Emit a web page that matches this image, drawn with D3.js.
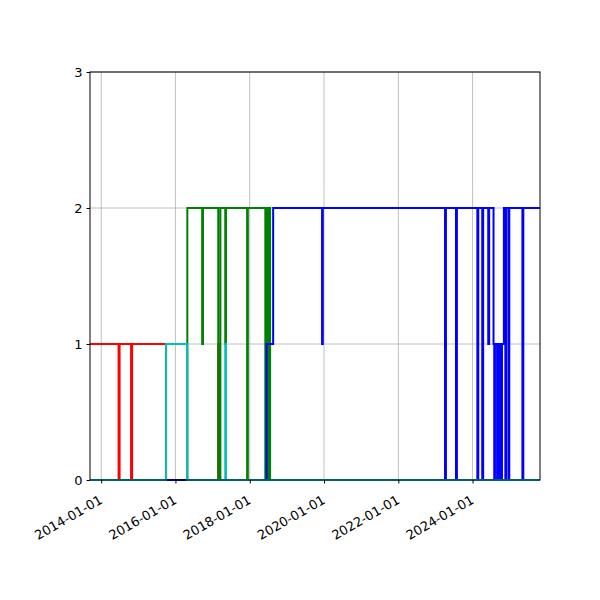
<!DOCTYPE html>
<html><head><meta charset="utf-8">
<script src="https://cdn.jsdelivr.net/npm/d3@7"></script>
<style>body{margin:0;background:#fff}text{font-family:"DejaVu Sans",sans-serif}</style>
</head><body>
<script>
// step series: [date, value], value holds until next point
const red = [["2013-09-13",1],["2014-06-21",0],["2014-07-01",1],["2014-10-22",0],["2014-11-01",1],["2015-10-01",0],["2017-02-25",1],["2017-03-05",0],["2025-10-25",0]];
const cyan = [["2013-09-13",0],["2015-10-01",1],["2016-04-27",0],["2017-05-05",1],["2017-05-12",0],["2025-10-25",0]];
const green = [["2013-09-13",0],["2016-04-27",2],["2016-09-20",1],["2016-09-28",2],["2017-02-25",0],["2017-03-18",2],["2017-05-05",1],["2017-05-12",2],
  ["2017-12-06",0],["2017-12-13",2],["2018-06-03",0],["2018-06-10",2],["2018-06-17",0],["2018-06-24",2],["2018-07-01",0],["2018-07-08",2],["2018-07-20",0],["2025-10-25",0]];
const blue = [["2013-09-13",0],["2018-06-15",1],["2018-08-19",2],["2019-12-13",1],["2019-12-20",2],["2023-04-05",0],["2023-04-14",2],["2023-07-22",0],["2023-07-31",2],
  ["2024-02-17",0],["2024-02-26",2],["2024-04-05",0],["2024-04-14",2],["2024-06-03",1],["2024-06-12",2],["2024-07-25",1],["2024-08-01",0],["2024-08-08",1],
  ["2024-08-29",0],["2024-09-05",1],["2024-09-19",0],["2024-09-26",1],["2024-10-09",0],["2024-10-16",1],["2024-11-04",2],["2024-11-18",0],["2024-11-25",2],
  ["2024-12-18",0],["2024-12-27",2],["2025-05-05",0],["2025-05-14",2],["2025-10-25",2]];
const xDomain = ["2013-09-13","2025-10-25"];
const xTicks = ["2014-01-01","2016-01-01","2018-01-01","2020-01-01","2022-01-01","2024-01-01"];
const yTicks = [0,1,2,3];

const parse = d3.timeParse("%Y-%m-%d");
const W = 600, H = 600, m = {l:90, r:60, t:72, b:120};
const svg = d3.select("body").append("svg").attr("width", W).attr("height", H);
const x = d3.scaleTime().domain(xDomain.map(parse)).range([m.l, W - m.r]);
const y = d3.scaleLinear().domain([0,3]).range([H - m.b, m.t]);

const grid = svg.append("g").attr("stroke", "#b0b0b0").attr("stroke-width", 0.8);
xTicks.forEach(t => grid.append("line").attr("x1", x(parse(t))).attr("x2", x(parse(t))).attr("y1", m.t).attr("y2", H - m.b));
yTicks.forEach(t => grid.append("line").attr("x1", m.l).attr("x2", W - m.r).attr("y1", y(t)).attr("y2", y(t)));

const line = d3.line().x(d => x(parse(d[0]))).y(d => y(d[1])).curve(d3.curveStepAfter);
const plot = svg.append("g");
[[red,"#ff0000"],[green,"#008000"],[blue,"#0000ff"],[cyan,"#00bfbf"]].forEach(([s,c]) => {
  plot.append("path").datum(s).attr("d", line).attr("fill","none").attr("stroke", c).attr("stroke-width", 2);
});

const fmt = d3.timeFormat("%Y-%m-%d");
const xa = svg.append("g").attr("transform", `translate(0,${H - m.b})`)
  .call(d3.axisBottom(x).tickValues(xTicks.map(parse)).tickFormat(fmt).tickSizeOuter(0).tickSize(3.5).tickPadding(4));
xa.selectAll("text").attr("text-anchor","end").attr("font-size", 13).attr("dy", null)
  .attr("transform", "translate(-2,16) rotate(-30)");
const ya = svg.append("g").attr("transform", `translate(${m.l},0)`)
  .call(d3.axisLeft(y).tickValues(yTicks).tickFormat(d3.format("d")).tickSizeOuter(0).tickSize(3.5).tickPadding(4));
ya.selectAll("text").attr("font-size", 13);
[xa, ya].forEach(a => { a.select(".domain").remove(); a.selectAll("line").attr("stroke","#000"); a.selectAll("text").attr("fill","#000"); });

svg.append("rect").attr("x", m.l).attr("y", m.t).attr("width", W - m.l - m.r).attr("height", H - m.t - m.b)
  .attr("fill","none").attr("stroke","#000").attr("stroke-width", 1);
</script>
</body></html>
